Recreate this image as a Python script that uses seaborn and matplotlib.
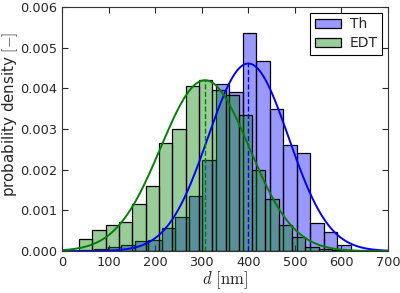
import numpy as np
import pandas as pd
import seaborn as sns
import matplotlib
matplotlib.use("Agg")
import matplotlib.pyplot as plt

# histogram bins (nm) and densities
th_edges = [40 + 29 * i for i in range(21)]
th_density = [0.00003, 0.00005, 0.00010, 0.00015, 0.00025, 0.00027, 0.00058,
              0.00083, 0.00135, 0.00224, 0.00410, 0.00392, 0.00535, 0.00468,
              0.00350, 0.00260, 0.00242, 0.00070, 0.00046, 0.00015]

edt_edges = [36.5 + 28.6 * i for i in range(21)]
edt_density = [0.00029, 0.00053, 0.00063, 0.00071, 0.00115, 0.00161, 0.00265,
               0.00301, 0.00407, 0.00420, 0.00396, 0.00383, 0.00334, 0.00200,
               0.00127, 0.00064, 0.00035, 0.00010, 0.00004, 0.00002]

# fitted normal distributions (mean, std) in nm
th_mean, th_std = 400.0, 86.5
edt_mean, edt_std = 307.0, 95.0

labels = ["Th", "EDT"]

sns.set_style("ticks")
plt.rcParams["font.family"] = ["DejaVu Sans"]
plt.rcParams["mathtext.fontset"] = "cm"
plt.rcParams["xtick.direction"] = "in"
plt.rcParams["ytick.direction"] = "in"

fig = plt.figure(figsize=(4.0, 2.93), dpi=100)
ax = fig.add_axes([0.155, 0.143, 0.815, 0.833])


def bin_table(edges, dens):
    e = np.asarray(edges)
    return pd.DataFrame({"d": (e[:-1] + e[1:]) / 2, "w": dens})


sns.histplot(data=bin_table(th_edges, th_density), x="d", weights="w",
             bins=th_edges, color="b", alpha=0.4, edgecolor="black",
             linewidth=0.9, ax=ax, label=labels[0])
sns.histplot(data=bin_table(edt_edges, edt_density), x="d", weights="w",
             bins=edt_edges, color="g", alpha=0.4, edgecolor="black",
             linewidth=0.9, ax=ax, label=labels[1])

xs = np.linspace(0, 700, 400)
for mu, sd, c in [(th_mean, th_std, "b"), (edt_mean, edt_std, "g")]:
    pdf = np.exp(-0.5 * ((xs - mu) / sd) ** 2) / (sd * np.sqrt(2 * np.pi))
    sns.lineplot(x=xs, y=pdf, color=c, linewidth=1.4, ax=ax)
    peak = 1 / (sd * np.sqrt(2 * np.pi))
    ax.vlines(mu, 0, peak, colors=c, linestyles="--", linewidth=1.0)

ax.set_xlim(0, 700)
ax.set_ylim(0, 0.006)
ax.set_xticks(range(0, 701, 100))
yt = np.arange(0, 0.0061, 0.001)
ax.set_yticks(yt)
ax.set_yticklabels([f"{v:.3f}" for v in yt])
ax.tick_params(labelsize=9.3, length=4, top=True, right=True, width=0.8, pad=3.5)
for s in ax.spines.values():
    s.set_color("#333333")
ax.set_xlabel(r"$d\ [\mathrm{nm}]$", fontsize=12, labelpad=0)
ax.set_ylabel(r"probability density $[-]$", fontsize=10.8, labelpad=0)
ax.yaxis.set_label_coords(-0.13, 0.56)

leg = ax.legend(loc="upper right", fontsize=10, fancybox=False,
                edgecolor="black", framealpha=1, handlelength=1.9,
                handletextpad=0.6, borderpad=0.35, labelspacing=0.35,
                borderaxespad=0.4)
leg.get_frame().set_linewidth(0.8)

fig.savefig("out.png", dpi=100)
